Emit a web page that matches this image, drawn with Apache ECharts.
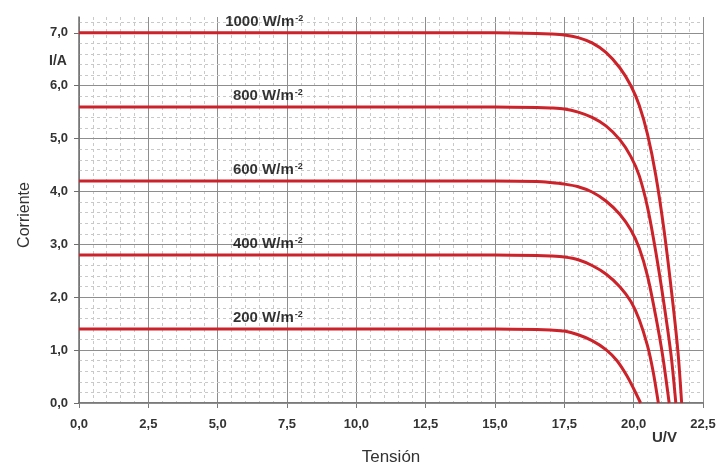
<!DOCTYPE html>
<html>
<head>
<meta charset="utf-8">
<title>Curvas I-V</title>
<script src="https://cdn.jsdelivr.net/npm/echarts@6/dist/echarts.min.js"></script>
<style>
  html, body { margin: 0; padding: 0; background: #ffffff; }
  #chart { width: 718px; height: 464px; }
</style>
</head>
<body>
<div id="chart"></div>
<script>
// Irradiance levels, in W/m²
const irradiance = [1000, 800, 600, 400, 200];

// Voltage (V) and current (A) points of each I-V curve
const v1000 = [0, 15, 16.5, 17.0, 17.5, 18.0, 18.5, 19.0, 19.5, 19.9, 20.2, 20.5, 20.8, 21.1, 21.4, 21.6, 21.73];
const i1000 = [7.0, 7.0, 6.99, 6.98, 6.96, 6.91, 6.81, 6.63, 6.34, 6.0, 5.63, 5.08, 4.3, 3.25, 1.95, 0.95, 0];

const v800 = [0, 15, 16.5, 17.0, 17.5, 18.0, 18.5, 19.0, 19.5, 19.9, 20.2, 20.5, 20.8, 21.1, 21.35, 21.52];
const i800 = [5.6, 5.6, 5.59, 5.58, 5.56, 5.5, 5.4, 5.24, 4.98, 4.66, 4.3, 3.7, 2.85, 1.85, 0.9, 0];

const v600 = [0, 15, 16.5, 17.0, 17.5, 18.0, 18.5, 19.0, 19.5, 19.9, 20.2, 20.5, 20.8, 21.05, 21.28];
const i600 = [4.2, 4.2, 4.19, 4.17, 4.14, 4.09, 3.99, 3.82, 3.57, 3.27, 2.93, 2.4, 1.63, 0.88, 0];

const v400 = [0, 15, 16.5, 17.0, 17.5, 18.0, 18.5, 19.0, 19.5, 19.9, 20.2, 20.5, 20.7, 20.89];
const i400 = [2.8, 2.8, 2.79, 2.78, 2.76, 2.71, 2.6, 2.44, 2.2, 1.92, 1.58, 1.08, 0.6, 0];

const v200 = [0, 15, 16.5, 17.0, 17.5, 18.0, 18.5, 19.0, 19.4, 19.75, 20.0, 20.25];
const i200 = [1.4, 1.4, 1.39, 1.38, 1.36, 1.29, 1.18, 1.01, 0.8, 0.52, 0.27, 0];

// Where each curve's caption sits: voltage at its left edge, current of the line beneath it
const captionV = [5.27, 5.55, 5.55, 5.55, 5.55];
const captionI = [7.0, 5.6, 4.2, 2.8, 1.4];

// Axis tick labels
const xTickLabels = ['0,0', '2,5', '5,0', '7,5', '10,0', '12,5', '15,0', '17,5', '20,0', '22,5'];
const yTickLabels = ['0,0', '1,0', '2,0', '3,0', '4,0', '5,0', '6,0', '7,0'];

const curves = [
  [v1000, i1000], [v800, i800], [v600, i600], [v400, i400], [v200, i200]
];

const RED = '#cc2229';
const MAJOR = '#8e8e8e';
const MINOR = '#c9c9c9';
const FONT = 'Arial, "Liberation Sans", sans-serif';

const lineSeries = curves.map(function (c, k) {
  return {
    name: irradiance[k] + ' W/m-2',
    type: 'line',
    xAxisIndex: 0,
    yAxisIndex: 0,
    data: c[0].map(function (v, j) { return [v, c[1][j]]; }),
    showSymbol: false,
    smooth: 0.3,
    lineStyle: { color: RED, width: 3 },
    z: 5
  };
});

const captionSeries = {
  type: 'scatter',
  xAxisIndex: 0,
  yAxisIndex: 0,
  symbolSize: 0,
  silent: true,
  z: 6,
  data: irradiance.map(function (g, k) {
    return { value: [captionV[k], captionI[k]], name: String(g) };
  }),
  label: {
    show: true,
    position: 'inside',
    align: 'left',
    verticalAlign: 'bottom',
    offset: [0, -4],
    formatter: function (p) { return '{b|' + p.name + ' W/m}{s|-2}'; },
    rich: {
      b: { fontFamily: FONT, fontWeight: 'bold', fontSize: 15, color: '#000000' },
      s: { fontFamily: FONT, fontWeight: 'bold', fontSize: 9, color: '#000000', verticalAlign: 'top', padding: [0, 0, 6, 1] }
    }
  }
};

const chart = echarts.init(document.getElementById('chart'), null, { renderer: 'canvas' });

chart.setOption({
  animation: false,
  backgroundColor: '#ffffff',
  grid: { left: 79, right: 15, top: 17, bottom: 61, containLabel: false, outerBoundsMode: 'none' },
  xAxis: [
    {
      type: 'value',
      min: 0,
      max: 22.5,
      interval: 2.5,
      name: 'Tensión',
      nameLocation: 'middle',
      nameGap: 46,
      nameTextStyle: { fontFamily: FONT, fontSize: 17, color: '#333333' },
      axisLine: { show: true, onZero: false, lineStyle: { color: '#7a7a7a', width: 2 } },
      axisTick: { show: true, length: 5, lineStyle: { color: '#7a7a7a' } },
      axisLabel: {
        margin: 15,
        fontFamily: FONT, fontWeight: 'bold', fontSize: 13, color: '#333333',
        formatter: function (v, i) { return xTickLabels[i] !== undefined ? xTickLabels[i] : ''; }
      },
      splitLine: { show: true, lineStyle: { color: MAJOR, width: 1 } },
      minorTick: { show: false, splitNumber: 5 },
      minorSplitLine: { show: true, lineStyle: { color: MINOR, width: 1, type: [3, 3] } }
    }
  ],
  yAxis: [
    {
      type: 'value',
      min: 0,
      max: 7.3,
      interval: 1,
      name: 'Corriente',
      nameLocation: 'middle',
      nameRotate: 90,
      nameGap: 46,
      nameTextStyle: { fontFamily: FONT, fontSize: 16, color: '#333333', padding: [0, 10, 0, 0] },
      axisLine: { show: true, onZero: false, lineStyle: { color: '#6e6e6e', width: 1.5 } },
      axisTick: { show: true, length: 5, lineStyle: { color: '#6e6e6e' } },
      axisLabel: {
        margin: 11,
        showMaxLabel: false,
        fontFamily: FONT, fontWeight: 'bold', fontSize: 13, color: '#333333',
        formatter: function (v, i) { return yTickLabels[i] !== undefined ? yTickLabels[i] : ''; }
      },
      splitLine: { show: true, showMaxLine: false, lineStyle: { color: MAJOR, width: 1 } },
      z: 3
    },
    {
      // fine 0.2 A grid, drawn without labels
      type: 'value',
      position: 'left',
      min: 0,
      max: 7.3,
      interval: 0.2,
      axisLine: { show: false },
      axisTick: { show: false },
      axisLabel: { show: false },
      splitLine: { show: true, showMinLine: false, showMaxLine: false, lineStyle: { color: MINOR, width: 1, type: [3, 3] } },
      z: 1
    }
  ],
  graphic: [
    {
      type: 'text', left: 49, top: 54, silent: true,
      style: { text: 'I/A', font: 'bold 14px ' + FONT, fill: '#333333' }
    },
    {
      type: 'text', left: 652, top: 430, silent: true,
      style: { text: 'U/V', font: 'bold 15px ' + FONT, fill: '#333333' }
    }
  ],
  series: lineSeries.concat([captionSeries])
});
</script>
</body>
</html>
